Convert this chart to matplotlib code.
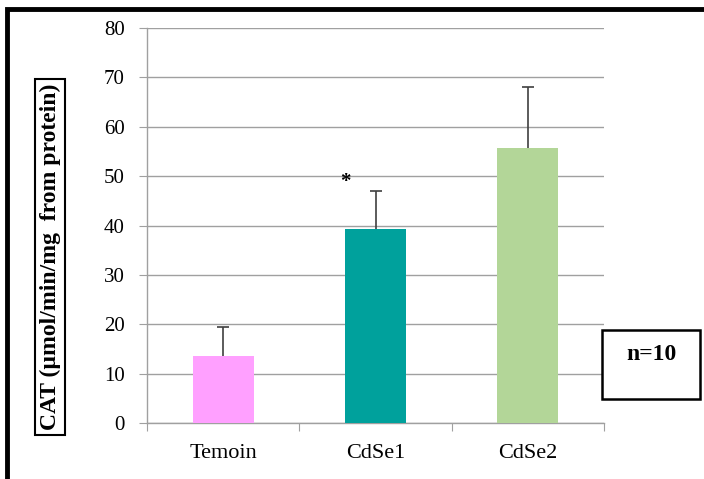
import matplotlib.pyplot as plt
from matplotlib.patches import Rectangle
import numpy as np

categories = ['Temoin', 'CdSe1', 'CdSe2']
means = [13.6, 39.3, 55.7]
errors = [5.8, 7.7, 12.4]
colors = ['#FFA0FF', '#00A19C', '#B3D698']
y_ticks = [0, 10, 20, 30, 40, 50, 60, 70, 80]

plt.rcParams['font.family'] = ['Liberation Serif', 'DejaVu Serif']

W, H = 704, 479
fig = plt.figure(figsize=(W / 100, H / 100), dpi=100)
ax = fig.add_axes([147 / W, 1 - 423 / H, (604 - 147) / W, (423 - 28) / H])

x = np.arange(len(categories))
ax.bar(x, means, width=0.4, color=colors, zorder=3)
# upper error bars only
eb = ax.errorbar(x, means, yerr=[np.zeros(len(errors)), errors], fmt='none',
                 ecolor='#404040', elinewidth=1.2, capsize=4, capthick=1.2, zorder=4)
eb[1][0].set_visible(False)
ax.text(x[1] - 0.2, means[1] + errors[1] - 0.3, '*', ha='center', va='bottom',
        fontsize=15, fontweight='bold')

ax.set_xlim(-0.5, 2.5)
ax.set_ylim(0, 80)
ax.set_yticks(y_ticks)
ax.tick_params(axis='y', labelsize=15, length=6, color='#a0a0a0', pad=10)
ax.set_xticks([-0.5, 0.5, 1.5, 2.5])
ax.set_xticklabels([])
ax.set_xticks(x, minor=True)
ax.set_xticklabels(categories, minor=True, fontsize=16)
ax.tick_params(axis='x', which='major', length=6, color='#a0a0a0')
ax.tick_params(axis='x', which='minor', length=0, pad=15)
ax.grid(axis='y', color='#a0a0a0', linewidth=1, zorder=0)
for s in ['top', 'right']:
    ax.spines[s].set_visible(False)
for s in ['left', 'bottom']:
    ax.spines[s].set_color('#a0a0a0')
    ax.spines[s].set_linewidth(1)

# y-axis label in a box
fig.text(50 / W, 1 - 257 / H, 'CAT (µmol/min/mg  from protein)', rotation=90,
         ha='center', va='center', fontsize=17, fontweight='bold',
         bbox=dict(boxstyle='square,pad=0.2', facecolor='white',
                   edgecolor='black', linewidth=1.5))

# n=10 box
fig.patches.append(Rectangle((602 / W, 1 - 399 / H), 98 / W, 69 / H,
                             transform=fig.transFigure, facecolor='white',
                             edgecolor='black', linewidth=1.8))
fig.text(651 / W, 1 - 354 / H, 'n=10', ha='center', va='center',
         fontsize=17, fontweight='bold')

# outer frame (left and top edges visible)
fig.patches.append(Rectangle((7 / W, -0.05), 1.1, 1.05 - 9 / H,
                             transform=fig.transFigure, fill=False,
                             edgecolor='black', linewidth=3.5))

fig.savefig('out.png', dpi=100)
